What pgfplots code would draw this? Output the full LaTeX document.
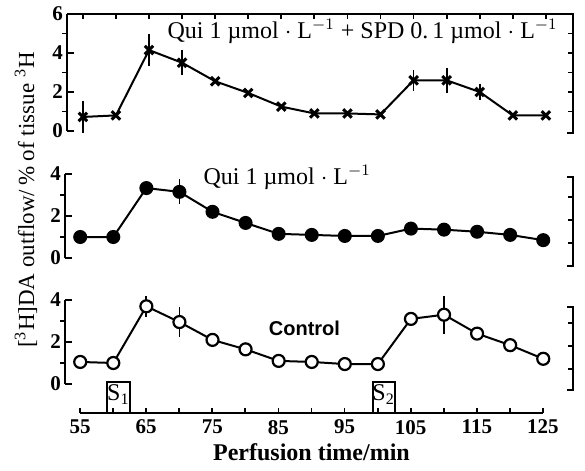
\documentclass[border=0pt]{standalone}
\usepackage{fontspec}
\setmainfont{Liberation Serif}
\setsansfont{Liberation Sans}
\usepackage{pgfplots}
\pgfplotsset{compat=1.18}
\usepackage{pgfplotstable}

\pgfplotstableread{
t y e
55 0.72 0.80
60 0.80 0
65 4.15 0.80
70 3.50 0.65
75 2.55 0
80 1.95 0
85 1.25 0
90 0.90 0
95 0.90 0
100 0.85 0
105 2.60 0.55
110 2.60 0.65
115 2.00 0.40
120 0.80 0
125 0.80 0
}\spd

\pgfplotstableread{
t y e
55 1.00 0
60 1.00 0
65 3.33 0
70 3.15 0.60
75 2.20 0
80 1.67 0
85 1.15 0
90 1.10 0
95 1.05 0
100 1.05 0
105 1.40 0
110 1.35 0
115 1.25 0
120 1.10 0
125 0.85 0
}\qui

\pgfplotstableread{
t y e
55 1.05 0
60 1.00 0
65 3.70 0.50
70 2.95 0.70
75 2.10 0
80 1.65 0
85 1.10 0
90 1.05 0
95 0.95 0
100 0.95 0
105 3.10 0
110 3.30 0.90
115 2.40 0.30
120 1.85 0
125 1.20 0
}\ctrl

\pgfplotsset{
  panel/.style={
    scale only axis, clip=false,
    axis x line=none, axis y line=left,
    axis line style={-, line width=1pt},
    tick align=inside, major tick length=3.5pt, minor tick length=2.5pt,
    every tick/.style={line width=0.9pt, black},
    minor y tick style={xshift=-2.5pt},
    tick label style={font=\fontsize{10.5}{12}\selectfont\bfseries},
    /pgf/number format/assume math mode=true,
    yticklabel style={xshift=1.5pt},
  },
  every axis plot/.append style={line width=1pt, black},
  ebar/.style={error bars/.cd, y dir=both, y explicit, error mark=none,
    error bar style={line width=0.9pt}},
}

\begin{document}
\begin{tikzpicture}
\useasboundingbox (0pt,0pt) rectangle (292.5pt,-235.5pt);

% ---------- top panel ----------
\begin{axis}[panel, at={(33.5pt,-65.5pt)}, anchor=south west,
  width=253pt, height=58.5pt,
  xmin=52.6, xmax=129.1, ymin=0, ymax=6,
  ytick={0,2,4,6}, minor ytick={1,3,5}]
  \draw[line width=1pt] (axis cs:52.6,6) -- (axis cs:129.1,6) -- (axis cs:129.1,-0.1) -- (axis cs:128.2,-0.1);
  \pgfplotsinvokeforeach{55,60,65,70,75,80,85,90,95,100,105,110,115,120,125}{\draw[line width=0.9pt] (axis cs:#1,6) -- (axis cs:#1,5.72);}
  \pgfplotsinvokeforeach{1,2,3,4,5}{\draw[line width=0.9pt] (axis cs:129.1,#1) -- (axis cs:128.35,#1);}
  \addplot[mark=x, mark size=3pt, mark options={line width=1.5pt}, ebar]
    table[x=t, y=y, y error=e] {\spd};
  \node[font=\fontsize{12}{14}\selectfont] at (axis cs:97.3,5.1)
    {Qui 1 µmol $\cdot$ L\textsuperscript{$-1$} + SPD 0.\,1 µmol $\cdot$ L\textsuperscript{$-1$}};
\end{axis}

% ---------- middle panel ----------
\begin{axis}[panel, at={(32.5pt,-129pt)}, anchor=south west,
  width=254pt, height=42pt,
  xmin=52.7, xmax=129.5, ymin=0, ymax=4,
  ytick={0,2,4}, minor ytick={1,3}]
  \draw[line width=1pt] (axis cs:128.6,3.86) -- (axis cs:129.5,3.86) -- (axis cs:129.5,-0.38) -- (axis cs:128.6,-0.38);
  \pgfplotsinvokeforeach{0.7,1.8,2.9}{\draw[line width=0.9pt] (axis cs:129.5,#1) -- (axis cs:128.75,#1);}
  \addplot[mark=*, mark size=3pt, mark options={fill=black}, ebar]
    table[x=t, y=y, y error=e] {\qui};
  \node[font=\fontsize{12}{14}\selectfont] at (axis cs:86.3,3.85)
    {Qui 1 µmol $\cdot$ L\textsuperscript{$-1$}};
\end{axis}

% ---------- bottom panel ----------
\begin{axis}[panel, at={(32.5pt,-192pt)}, anchor=south west,
  width=254pt, height=42pt,
  xmin=52.7, xmax=129.5, ymin=0, ymax=4,
  ytick={0,2,4}, minor ytick={1,3}]
  \draw[line width=1pt] (axis cs:128.6,3.67) -- (axis cs:129.5,3.67) -- (axis cs:129.5,-0.29) -- (axis cs:128.6,-0.29);
  \pgfplotsinvokeforeach{0.7,1.8,2.9}{\draw[line width=0.9pt] (axis cs:129.5,#1) -- (axis cs:128.75,#1);}
  \addplot[mark=*, mark size=3pt, mark options={fill=white, line width=1.1pt}, ebar]
    table[x=t, y=y, y error=e] {\ctrl};
  \node[font=\sffamily\bfseries\fontsize{10}{12}\selectfont] at (axis cs:88.9,2.67) {Control};
\end{axis}

% ---------- time axis ----------
\begin{axis}[at={(40pt,-206.5pt)}, anchor=south west, scale only axis,
  width=231.5pt, height=15.5pt, clip=false,
  xmin=55, xmax=125, ymin=0, ymax=1,
  axis x line=bottom, axis y line=none,
  axis line style={-, line width=1pt},
  xtick={55,65,...,125}, minor xtick={60,70,...,120},
  tick align=inside, major tick length=2.5pt, minor tick length=2.5pt,
  every tick/.style={line width=0.9pt, black},
  tick label style={font=\fontsize{10.5}{12}\selectfont\bfseries},
  /pgf/number format/assume math mode=true,
  xlabel={Perfusion time/min},
  xlabel style={font=\fontsize{12}{14}\selectfont\bfseries, yshift=2pt}]
  \draw[line width=1pt] (axis cs:59.1,0) rectangle (axis cs:62.6,1);
  \draw[line width=1pt] (axis cs:99.3,0) rectangle (axis cs:102.6,1);
  \node[font=\fontsize{12}{13}\selectfont] at (axis cs:60.8,0.6) {S\textsubscript{1}};
  \node[font=\fontsize{12}{13}\selectfont] at (axis cs:100.9,0.6) {S\textsubscript{2}};
\end{axis}

% ---------- y label ----------
\node[rotate=90, font=\fontsize{11.5}{13}\selectfont] at (13pt,-100pt)
  {[\textsuperscript{3}H]DA outflow/\,\% of tissue \textsuperscript{3}H};
\end{tikzpicture}
\end{document}
